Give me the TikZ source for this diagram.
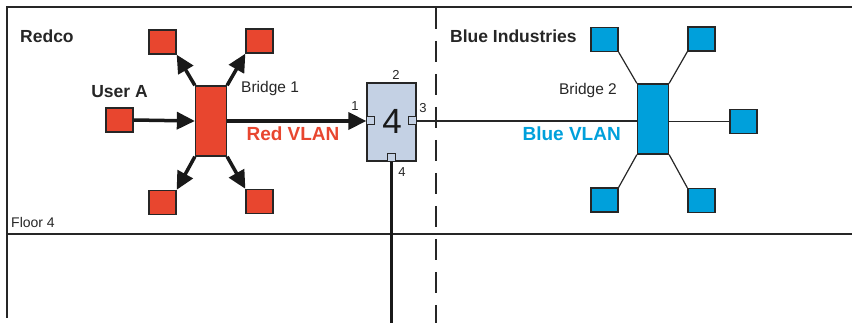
\documentclass[tikz,border=0pt]{standalone}
\usepackage{fontspec}
\setmainfont{Liberation Sans}
\usetikzlibrary{arrows.meta,positioning}
\definecolor{redco}{HTML}{E8462F}
\definecolor{blueind}{HTML}{00A0DB}
\definecolor{swfill}{HTML}{C4D1E4}
\begin{document}
\begin{tikzpicture}[x=1pt, y=-1pt,
    frame/.style={line width=2pt, black!85},
    redhost/.style={rectangle, draw=black!85, line width=1.3pt, fill=redco, minimum width=27pt, minimum height=24pt, inner sep=0pt},
    bluehost/.style={redhost, fill=blueind},
    bridgebox/.style={rectangle, draw=black!85, line width=1.3pt, minimum width=31pt, minimum height=70pt, inner sep=0pt},
    port/.style={rectangle, draw=black!85, line width=1pt, fill=swfill, minimum size=8pt, inner sep=0pt},
    bigarrow/.style={line width=3.5pt, black!90, -{Triangle[length=18pt, width=17pt]}},
    thinline/.style={line width=1.2pt, black!85},
    boldlabel/.style={font=\fontsize{17.5}{20}\selectfont\bfseries, text=black!85, inner sep=0pt},
    vlanlabel/.style={font=\fontsize{19}{21}\selectfont\bfseries, inner sep=0pt},
    plainlabel/.style={font=\fontsize{15.5}{17}\selectfont, text=black!85, inner sep=0pt},
    numlabel/.style={font=\fontsize{13}{15}\selectfont, text=black!85, inner sep=0pt}]
  \useasboundingbox (0,0) rectangle (852,323);
  % rooms and floors
  \draw[frame] (852,7) -- (7,7) -- (7,318);
  \draw[frame] (7,234) -- (852,234);
  \draw[line width=1.5pt, black!85, dash pattern=on 21pt off 12pt] (436,8) -- (436,323);
  \node[boldlabel, anchor=west] (redco) at (20,36) {Redco};
  \node[boldlabel, anchor=west] (blueco) at (450,36) {Blue Industries};
  \node[numlabel, font=\fontsize{14}{16}\selectfont, anchor=west] (floor) at (11,222) {Floor 4};

  % Redco side
  \node[bridgebox, fill=redco] (bridge1) at (211,121) {};
  \node[redhost] (usera) at (119.5,120) {};
  \node[redhost] (r1) at (162.5,42) {};
  \node[redhost] (r2) at (259.5,41) {};
  \node[redhost] (r3) at (162.5,202.5) {};
  \node[redhost] (r4) at (259.5,201.5) {};
  \node[boldlabel, above=9pt of usera] (useralbl) {User A};
  \node[plainlabel, anchor=west] (b1lbl) at (241,88) {Bridge 1};
  \node[vlanlabel, text=redco] (redvlan) at (293,134) {Red VLAN};
  \draw[bigarrow] (usera.east) -- (bridge1.west);
  \draw[bigarrow] (bridge1.north west) -- (r1.south east);
  \draw[bigarrow] (bridge1.north east) -- (r2.south west);
  \draw[bigarrow] (bridge1.south west) -- (r3.north east);
  \draw[bigarrow] (bridge1.south east) -- (r4.north west);

  % switch
  \node[rectangle, draw=black!85, line width=1.3pt, fill=swfill, minimum width=49pt, minimum height=78pt, inner sep=0pt] (switch) at (391.5,122) {};
  \node[font=\fontsize{35}{37}\selectfont, text=black!90, inner sep=0pt] (swnum) at (392,121) {4};
  \node[port, anchor=west] (p1) at (switch.west |- 0,121) {};
  \node[port, anchor=east] (p3) at (switch.east |- 0,121) {};
  \node[port, anchor=south] (p4) at (switch.south) {};
  \node[numlabel] at (355,106) {1};
  \node[numlabel] at (396,75) {2};
  \node[numlabel] at (423,108) {3};
  \node[numlabel] at (402,172) {4};
  \coordinate (down) at (393,323);
  \draw[bigarrow] (bridge1.east |- 0,121) -- (p1.west);
  \draw[line width=3.5pt, black!90] (p4.south) -- (p4.south |- down);

  % Blue Industries side
  \node[bridgebox, fill=blueind] (bridge2) at (653,119) {};
  \node[bluehost] (b1) at (604.5,39.5) {};
  \node[bluehost] (b2) at (701.5,39) {};
  \node[bluehost] (b3) at (743.5,121.5) {};
  \node[bluehost] (b4) at (604.5,200) {};
  \node[bluehost] (b5) at (701.5,200.5) {};
  \node[plainlabel, anchor=east] (b2lbl) at (617,90) {Bridge 2};
  \node[vlanlabel, text=blueind, anchor=east] (bluevlan) at (621,134) {Blue VLAN};
  \draw[thinline] (p3.east) -- (bridge2.west |- p3.east);
  \draw[thinline] (bridge2.east |- b3.west) -- (b3.west);
  \draw[thinline] (bridge2.north west) -- (b1.south east);
  \draw[thinline] (bridge2.north east) -- (b2.south west);
  \draw[thinline] (bridge2.south west) -- (b4.north east);
  \draw[thinline] (bridge2.south east) -- (b5.north west);
\end{tikzpicture}
\end{document}
